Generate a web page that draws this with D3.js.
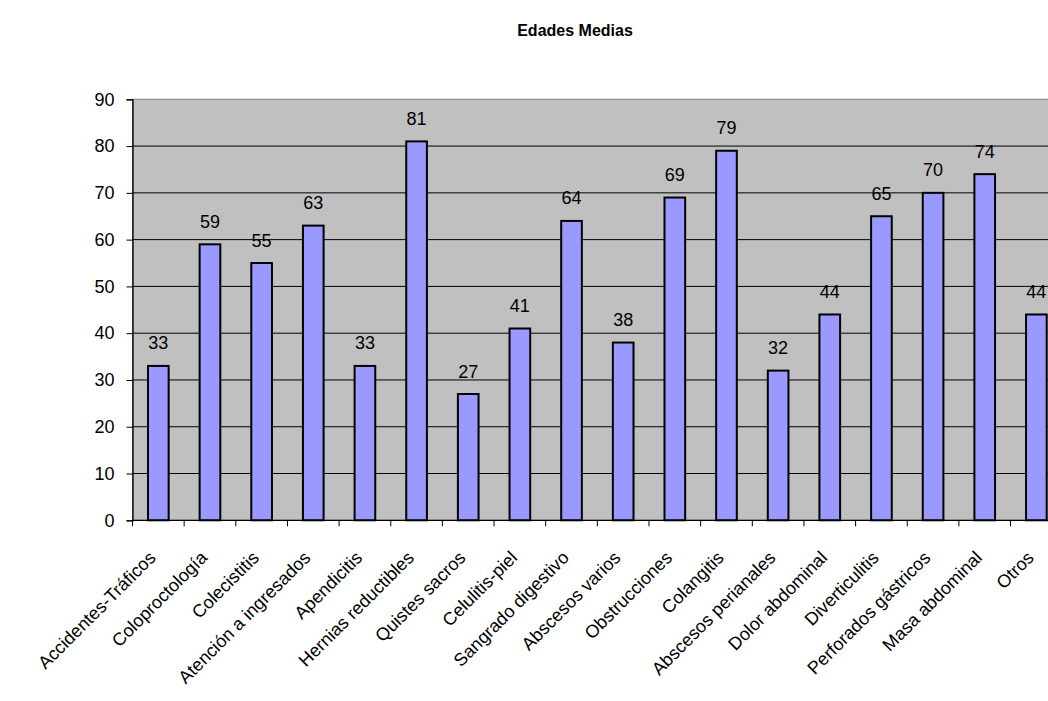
<!DOCTYPE html>
<html>
<head>
<meta charset="utf-8">
<script src="https://cdn.jsdelivr.net/npm/d3@7"></script>
<style>
body { margin: 0; background: #fff; }
text { font-family: Arial, "Liberation Sans", sans-serif; }
</style>
</head>
<body>
<svg id="chart"></svg>
<script>
var canvas_width = 1048;
var canvas_height = 701;
var left_offset = 132.5;
var top_offset = 99.3;
var bottom_line = 520.3;
var step = 51.65;

var chart_title = "Edades Medias";
var categories = ["Accidentes-Tráficos", "Coloproctología", "Colecistitis", "Atención a ingresados",
    "Apendicitis", "Hernias reductibles", "Quistes sacros", "Celulitis-piel", "Sangrado digestivo",
    "Abscesos varios", "Obstrucciones", "Colangitis", "Abscesos perianales", "Dolor abdominal",
    "Diverticulitis", "Perforados gástricos", "Masa abdominal", "Otros"];
var values = [33, 59, 55, 63, 33, 81, 27, 41, 64, 38, 69, 79, 32, 44, 65, 70, 74, 44];
var y_ticks = [0, 10, 20, 30, 40, 50, 60, 70, 80, 90];

let svg = d3.select("#chart");
svg.attr("width", canvas_width).attr("height", canvas_height);

let x = d3.scaleBand()
    .domain(categories)
    .range([left_offset, left_offset + step * categories.length])
    .paddingInner(0.6)
    .paddingOuter(0.3);

let y = d3.scaleLinear()
    .domain([0, 90])
    .range([bottom_line, top_offset]);

let plot_right = left_offset + step * categories.length;

// plot background
svg.append("rect")
    .attr("x", left_offset)
    .attr("y", top_offset)
    .attr("width", plot_right - left_offset)
    .attr("height", bottom_line - top_offset)
    .attr("fill", "#c0c0c0")
    .attr("stroke", "#808080")
    .attr("stroke-width", 1);

// gridlines
svg.selectAll(".grid")
    .data(y_ticks.slice(1, -1))
    .join("line")
    .attr("class", "grid")
    .attr("x1", left_offset)
    .attr("x2", plot_right)
    .attr("y1", d => y(d))
    .attr("y2", d => y(d))
    .attr("stroke", "#000")
    .attr("stroke-width", 1);

// y axis
let yAxis = d3.axisLeft(y).tickValues(y_ticks).tickSize(6).tickPadding(12);
let yg = svg.append("g")
    .attr("transform", "translate(" + left_offset + ",0)")
    .call(yAxis);
yg.select(".domain").attr("stroke", "#000").attr("stroke-width", 1.3);
yg.selectAll(".tick line").attr("stroke", "#000");
yg.selectAll("text")
    .style("font-size", "18px")
    .attr("fill", "#000");

// bars
svg.selectAll(".bar")
    .data(values)
    .join("rect")
    .attr("class", "bar")
    .attr("x", (d, i) => x(categories[i]))
    .attr("y", d => y(d))
    .attr("width", x.bandwidth())
    .attr("height", d => bottom_line - y(d))
    .attr("fill", "#9999ff")
    .attr("stroke", "#000")
    .attr("stroke-width", 2);

// value labels
svg.selectAll(".val")
    .data(values)
    .join("text")
    .attr("class", "val")
    .attr("x", (d, i) => x(categories[i]) + x.bandwidth() / 2)
    .attr("y", d => y(d) - 16.5)
    .attr("text-anchor", "middle")
    .style("font-size", "18px")
    .text(d => d);

// x axis line and ticks
svg.append("line")
    .attr("x1", left_offset)
    .attr("x2", plot_right)
    .attr("y1", bottom_line)
    .attr("y2", bottom_line)
    .attr("stroke", "#000")
    .attr("stroke-width", 1.3);

svg.selectAll(".xtick")
    .data(d3.range(categories.length + 1))
    .join("line")
    .attr("class", "xtick")
    .attr("x1", d => left_offset + d * step)
    .attr("x2", d => left_offset + d * step)
    .attr("y1", bottom_line)
    .attr("y2", bottom_line + 6)
    .attr("stroke", "#000");

// category labels
svg.selectAll(".cat")
    .data(categories)
    .join("text")
    .attr("class", "cat")
    .attr("transform", d => "translate(" + (x(d) + x.bandwidth() / 2 - 6) + "," + (bottom_line + 34) + ") rotate(-45)")
    .attr("text-anchor", "end")
    .attr("dy", "0.35em")
    .style("font-size", "18px")
    .text(d => d);

// title
svg.append("text")
    .attr("x", 575)
    .attr("y", 36)
    .attr("text-anchor", "middle")
    .style("font-size", "16px")
    .style("font-weight", "bold")
    .text(chart_title);
</script>
</body>
</html>
